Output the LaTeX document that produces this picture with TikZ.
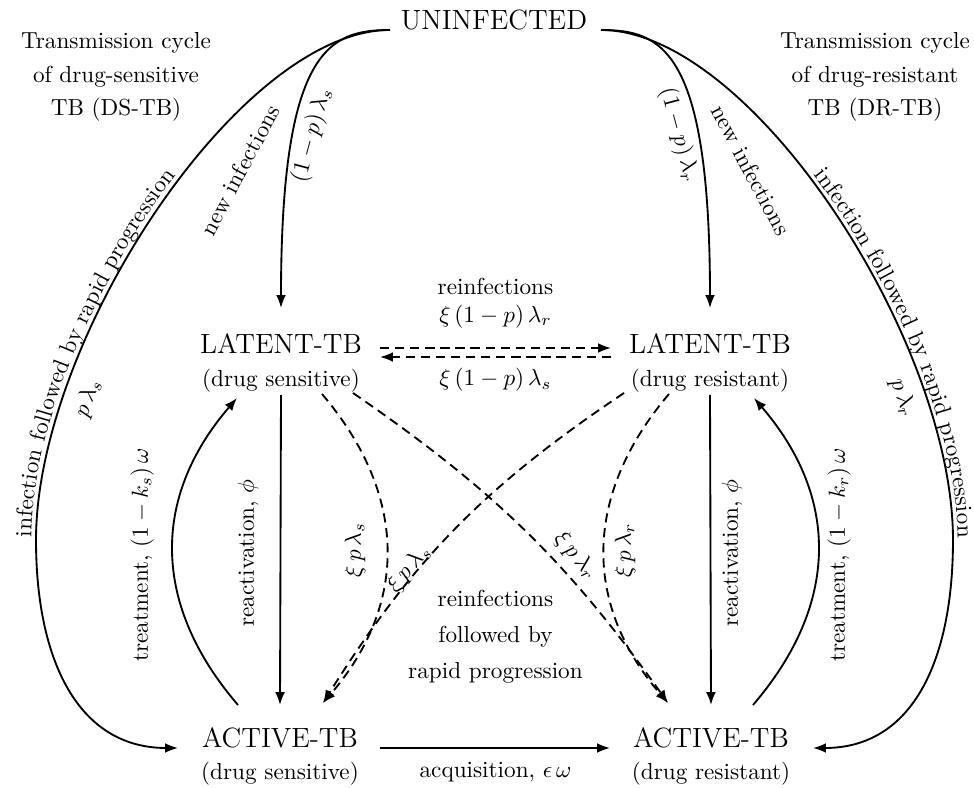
\documentclass[tikz,border=0pt]{standalone}
\usetikzlibrary{arrows.meta,calc,decorations.text}
\begin{document}
\begin{tikzpicture}[x=0.431pt,y=0.431pt,
  conn/.style={line width=0.8pt,-{Latex[length=5.5pt,width=4.2pt]}},
  dconn/.style={conn,dash pattern=on 4pt off 2.5pt},
  state/.style={font=\large,anchor=base,inner sep=0pt},
  sub/.style={anchor=base,inner sep=0pt},
  lab/.style={inner sep=0pt},
  arctext/.style={decorate,decoration={text along path,raise=2pt,#1}}]
\useasboundingbox (0,0) rectangle (974,788);
% states
\node[state] (unin) at (494,758) {UNINFECTED};
\node[state] (Ls) at (281,434) {LATENT-TB};
\node[sub] (Lsd) at (281,401) {(drug sensitive)};
\node[state] (Lr) at (710,434) {LATENT-TB};
\node[sub] (Lrd) at (710,401) {(drug resistant)};
\node[state] (As) at (280,40) {ACTIVE-TB};
\node[sub] (Asd) at (280,8) {(drug sensitive)};
\node[state] (Ar) at (711,40) {ACTIVE-TB};
\node[sub] (Ard) at (711,8) {(drug resistant)};
\coordinate (lfar) at (36,248);
\coordinate (rfar) at (953,248);
% titles
\node[lab,align=center] (tl) at (116,711) {Transmission cycle\\[2.5pt]of drug-sensitive\\[2.5pt]TB (DS-TB)};
\node[lab,align=center] (tr) at (875,711) {Transmission cycle\\[2.5pt]of drug-resistant\\[2.5pt]TB (DR-TB)};
% new infections
\draw[conn] ($(unin.base)+(-104,0)$) .. controls +(-60,0) and +(0,260) .. ($(Ls.base)+(0,46)$);
\draw[conn] ($(unin.base)+(107,0)$) .. controls +(60,0) and +(0,260) .. ($(Lr.base)+(0,46)$);
\node[lab,rotate=75] (l1) at (312,653) {$(1-p)\,\lambda_s$};
\node[lab,rotate=62] (l2) at (240,618) {new infections};
\node[lab,rotate=-75] (l3) at (679,653) {$(1-p)\,\lambda_r$};
\node[lab,rotate=-62] (l4) at (751,618) {new infections};
% rapid progression arcs
\draw[conn] ($(unin.base)+(-104,0)$) .. controls +(-150,0) and +(0,200) .. (lfar) .. controls +(0,-120) and +(-100,0) .. ($(As.base)+(-102,0)$);
\draw[conn] ($(unin.base)+(107,0)$) .. controls +(150,0) and +(0,200) .. (rfar) .. controls +(0,-120) and +(100,0) .. ($(Ar.base)+(102,0)$);
\path[arctext={text={infection followed by rapid progression},text align={left, left indent=1pt}}] (lfar) .. controls +(0,200) and +(-150,0) .. ($(unin.base)+(-104,0)$);
\path[arctext={text={infection followed by rapid progression},text align={right, right indent=1pt}}] ($(unin.base)+(107,0)$) .. controls +(150,0) and +(0,200) .. (rfar);
\node[lab,rotate=70] (l5) at (88,390) {$p\,\lambda_s$};
\node[lab,rotate=-70] (l6) at (903,390) {$p\,\lambda_r$};
% treatment
\draw[conn] ($(As.base)+(-42,43)$) .. controls +(-86,100) and +(-86,-100) .. ($(Lsd.base)+(-44,-11)$);
\draw[conn] ($(Ar.base)+(42,43)$) .. controls +(86,100) and +(86,-100) .. ($(Lrd.base)+(44,-11)$);
\node[lab,rotate=90] (l7) at (142,233) {treatment, $(1-k_s)\,\omega$};
\node[lab,rotate=90] (l8) at (839,233) {treatment, $(1-k_r)\,\omega$};
% reactivation
\draw[conn] ($(Lsd.base)+(0,-8)$) -- ($(As.base)+(0,43)$);
\draw[conn] ($(Lrd.base)+(0,-8)$) -- ($(Ar.base)+(0,43)$);
\node[lab,rotate=90] (l9) at (248,235) {reactivation, $\phi$};
\node[lab,rotate=90] (l10) at (732,235) {reactivation, $\phi$};
% reinfections between latent
\draw[dconn] ($(Ls.base)+(99,6)$) -- ($(Lr.base)+(-99,6)$);
\draw[dconn] ($(Lr.base)+(-99,-3)$) -- ($(Ls.base)+(99,-3)$);
\node[lab,align=center] (lre) at (495.5,485) {reinfections\\$\xi\,(1-p)\,\lambda_r$};
\node[lab] (lrs) at (495.5,408) {$\xi\,(1-p)\,\lambda_s$};
% reinfections with rapid progression
\draw[dconn] ($(Lsd.base)+(41,-7)$) .. controls +(85,-100) and +(86,100) .. ($(As.base)+(43,45)$);
\draw[dconn] ($(Lrd.base)+(-41,-7)$) .. controls +(-85,-100) and +(-86,100) .. ($(Ar.base)+(-43,45)$);
\draw[dconn] ($(Lsd.base)+(72,-6)$) to[bend left=10] ($(Ar.base)+(-43,45)$);
\draw[dconn] ($(Lrd.base)+(-86,-6)$) to[bend right=12] ($(As.base)+(43,45)$);
\node[lab,rotate=90] (l11) at (355,238) {$\xi\,p\,\lambda_s$};
\node[lab,rotate=90] (l12) at (625,238) {$\xi\,p\,\lambda_r$};
\node[lab,rotate=50] (l13) at (409,219) {$\xi\,p\,\lambda_s$};
\node[lab,rotate=-50] (l14) at (576,232) {$\xi\,p\,\lambda_r$};
\node[lab,align=center] (mid) at (495.5,151) {reinfections\\[3.5pt]followed by\\[3.5pt]rapid progression};
% acquisition
\draw[conn] ($(As.base)+(100,0)$) -- ($(Ar.base)+(-101,0)$);
\node[lab] (acq) at (495.5,16) {acquisition, $\epsilon\,\omega$};
\end{tikzpicture}
\end{document}
